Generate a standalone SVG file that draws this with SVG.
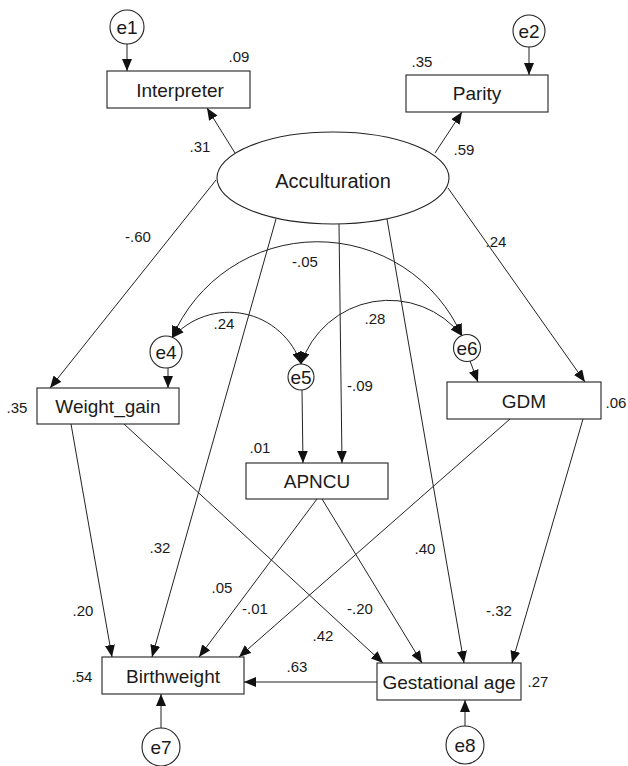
<svg xmlns="http://www.w3.org/2000/svg" width="628" height="766" viewBox="0 0 628 766">
<defs>
<marker id="ah" markerUnits="userSpaceOnUse" markerWidth="12" markerHeight="10" viewBox="0 0 12 10" refX="12" refY="5" orient="auto-start-reverse">
<path d="M0,0 L12,5 L0,10 z" fill="#111"/>
</marker>
<style>
.n{fill:#fff;stroke:#222;stroke-width:1.1}
.t{font-family:"Liberation Sans",Arial,sans-serif;font-size:19px;fill:#1a1a1a;text-anchor:middle}
.c{font-family:"Liberation Sans",Arial,sans-serif;font-size:15px;fill:#1a1a1a;text-anchor:middle}
.e{stroke:#222;stroke-width:1;fill:none;marker-end:url(#ah)}
.b{stroke:#222;stroke-width:1;fill:none;marker-start:url(#ah);marker-end:url(#ah)}
</style>
</defs>
<rect width="628" height="766" fill="#fff"/>
<g id="connectors">
<line class="e" x1="127" y1="44" x2="127" y2="71"/>
<line class="e" x1="529" y1="47" x2="529" y2="75"/>
<line class="e" x1="235" y1="153" x2="207" y2="108"/>
<line class="e" x1="435" y1="153" x2="462" y2="112"/>
<line class="e" x1="216" y1="180" x2="50" y2="388"/>
<line class="e" x1="276" y1="219" x2="152" y2="657"/>
<line class="e" x1="339" y1="224" x2="342" y2="463"/>
<line class="e" x1="387" y1="219" x2="464" y2="663"/>
<line class="e" x1="448" y1="188" x2="585" y2="382"/>
<line class="e" x1="168" y1="368" x2="168" y2="388"/>
<line class="e" x1="302" y1="390" x2="303" y2="463"/>
<line class="e" x1="470" y1="361" x2="478" y2="382"/>
<line class="e" x1="71" y1="424" x2="112" y2="657"/>
<line class="e" x1="124" y1="424" x2="383" y2="663"/>
<line class="e" x1="317" y1="499" x2="199" y2="657"/>
<line class="e" x1="322" y1="499" x2="422" y2="663"/>
<line class="e" x1="510" y1="419" x2="239" y2="657"/>
<line class="e" x1="583" y1="419" x2="512" y2="663"/>
<line class="e" x1="377" y1="682" x2="244" y2="682"/>
<line class="e" x1="161" y1="728" x2="161" y2="694"/>
<line class="e" x1="465" y1="726" x2="465" y2="700"/>
<path class="b" d="M172,338 A158,158 0 0 1 462,336"/>
<path class="b" d="M172,338 A76,76 0 0 1 301,364"/>
<path class="b" d="M301,364 A92.6,92.6 0 0 1 462,336"/>
</g>
<g id="labels">
<text class="c" x="239" y="62">.09</text>
<text class="c" x="200" y="152">.31</text>
<text class="c" x="422" y="67">.35</text>
<text class="c" x="464" y="155">.59</text>
<text class="c" x="138" y="242">-.60</text>
<text class="c" x="305" y="267">-.05</text>
<text class="c" x="224" y="329">.24</text>
<text class="c" x="375" y="324">.28</text>
<text class="c" x="496" y="247">.24</text>
<text class="c" x="360" y="391">-.09</text>
<text class="c" x="17" y="413">.35</text>
<text class="c" x="616" y="408">.06</text>
<text class="c" x="260" y="453">.01</text>
<text class="c" x="160" y="553">.32</text>
<text class="c" x="425" y="554">.40</text>
<text class="c" x="222" y="593">.05</text>
<text class="c" x="255" y="614">-.01</text>
<text class="c" x="83" y="616">.20</text>
<text class="c" x="360" y="614">-.20</text>
<text class="c" x="499" y="616">-.32</text>
<text class="c" x="323" y="641">.42</text>
<text class="c" x="297" y="672">.63</text>
<text class="c" x="82" y="682">.54</text>
<text class="c" x="538" y="687">.27</text>
</g>
<g id="Acculturation"><ellipse class="n" cx="333" cy="178" rx="116" ry="46"/><text class="t" x="333" y="188" style="font-size:20px">Acculturation</text></g>
<g id="Interpreter"><rect class="n" x="107" y="71" width="143" height="37"/><text class="t" x="180" y="97">Interpreter</text></g>
<g id="Parity"><rect class="n" x="406" y="75" width="142" height="37"/><text class="t" x="477" y="100">Parity</text></g>
<g id="Weight_gain"><rect class="n" x="37" y="388" width="142" height="36"/><text class="t" x="108" y="413">Weight_gain</text></g>
<g id="GDM"><rect class="n" x="447" y="382" width="154" height="37"/><text class="t" x="524" y="408">GDM</text></g>
<g id="APNCU"><rect class="n" x="246" y="463" width="142" height="36"/><text class="t" x="317" y="488">APNCU</text></g>
<g id="Birthweight"><rect class="n" x="102" y="657" width="142" height="37"/><text class="t" x="173" y="683">Birthweight</text></g>
<g id="Gestational_age"><rect class="n" x="377" y="663" width="144" height="37"/><text class="t" x="449" y="689">Gestational age</text></g>
<g id="e1"><circle class="n" cx="127" cy="27" r="17"/><text class="t" x="127" y="34">e1</text></g>
<g id="e2"><circle class="n" cx="529" cy="31" r="16"/><text class="t" x="529" y="38">e2</text></g>
<g id="e4"><circle class="n" cx="166" cy="352" r="16"/><text class="t" x="166" y="359">e4</text></g>
<g id="e5"><circle class="n" cx="301" cy="377" r="13"/><text class="t" x="301" y="384">e5</text></g>
<g id="e6"><circle class="n" cx="467" cy="348" r="13.5"/><text class="t" x="467" y="355">e6</text></g>
<g id="e7"><circle class="n" cx="161" cy="747" r="19"/><text class="t" x="161" y="754">e7</text></g>
<g id="e8"><circle class="n" cx="465" cy="745" r="19"/><text class="t" x="465" y="752">e8</text></g>
</svg>
